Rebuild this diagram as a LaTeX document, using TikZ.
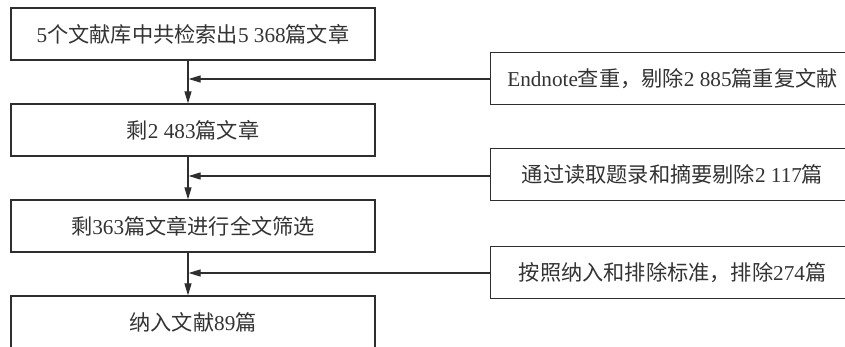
\documentclass[tikz,border=0pt]{standalone}
\usepackage{fontspec}
\setmainfont{Liberation Serif}
\newfontfamily\cjk{Noto Sans CJK SC}
\usetikzlibrary{arrows.meta}
\newcommand{\zh}[1]{{\cjk #1}}
\definecolor{linec}{HTML}{2E2E2E}
\definecolor{textc}{HTML}{333333}
\begin{document}
\begin{tikzpicture}[x=1pt,y=-1pt,
  box/.style={draw=linec, line width=1.3pt, minimum width=364pt, minimum height=52pt,
    inner sep=0pt, text=textc, font=\fontsize{21.2}{23}\selectfont},
  conn/.style={draw=linec, line width=1.2pt, -{Triangle[length=12pt,width=7pt]}}]
\clip (0,0) rectangle (845,347);
\fill[white] (0,0) rectangle (845,347);
\node[box] (b1) at (193,34) {5\zh{个文献库中共检索出}5 368\zh{篇文章}};
\node[box] (b2) at (193,130) {\zh{剩}2 483\zh{篇文章}};
\node[box] (b3) at (193,226) {\zh{剩}363\zh{篇文章进行全文筛选}};
\node[box] (b4) at (193,322) {\zh{纳入文献}89\zh{篇}};
\node[box] (r1) at (672.5,78.5) {Endnote\zh{查重，剔除}2 885\zh{篇重复文献}};
\node[box] (r2) at (672.5,174.5) {\zh{通过读取题录和摘要剔除}2 117\zh{篇}};
\node[box] (r3) at (672.5,272.5) {\zh{按照纳入和排除标准，排除}274\zh{篇}};
\coordinate (j1) at (188,79);
\coordinate (j2) at (188,176);
\coordinate (j3) at (188,273);
\draw[conn] ([xshift=-5pt]b1.south) -- ([xshift=-5pt]b2.north);
\draw[conn] ([xshift=-5pt]b2.south) -- ([xshift=-5pt]b3.north);
\draw[conn] ([xshift=-5pt]b3.south) -- ([xshift=-5pt]b4.north);
\draw[conn] (r1.west |- j1) -- ([xshift=0.6pt]j1);
\draw[conn] (r2.west |- j2) -- ([xshift=0.6pt]j2);
\draw[conn] (r3.west |- j3) -- ([xshift=0.6pt]j3);
\end{tikzpicture}
\end{document}
